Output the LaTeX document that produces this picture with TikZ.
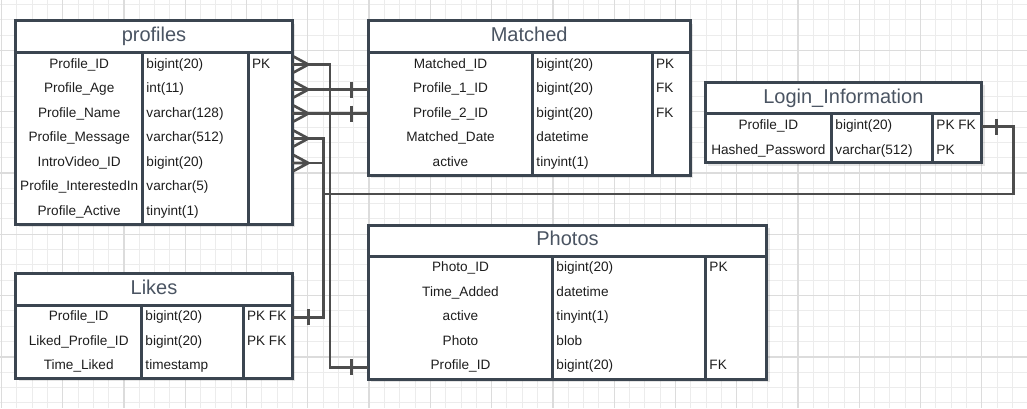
\documentclass[tikz,border=0pt]{standalone}
\usepackage{fontspec}
\setmainfont{Liberation Sans}
\usetikzlibrary{calc}
\definecolor{gridminor}{HTML}{ECECEC}
\definecolor{gridmajor}{HTML}{DCDCDC}
\definecolor{tborder}{HTML}{3B4550}
\definecolor{ttitle}{HTML}{4A5462}
\definecolor{conncol}{HTML}{4D4D4D}
\definecolor{celltext}{HTML}{1E1E1E}
\tikzset{
  tblbox/.style={rectangle, draw=tborder, line width=2.25pt, fill=white, inner sep=0pt, outer sep=0pt},
  coldiv/.style={draw=tborder, line width=1.9pt},
  tshadow/.style={fill=black, opacity=0.10},
  titletext/.style={anchor=base, inner sep=0pt, text=ttitle, font=\fontsize{15}{18}\selectfont},
  cellc/.style={anchor=base, inner sep=0pt, text=celltext, font=\fontsize{10.2}{12}\selectfont},
  celll/.style={cellc, anchor=base west},
  conn/.style={draw=conncol, line width=2.2pt},
  gminor/.style={draw=gridminor, line width=0.75pt},
  gmajor/.style={draw=gridmajor, line width=0.9pt},
  crowfoot/.pic={\draw[conn, line width=2pt] (1.2,-8) -- (16,0) (1.2,0) -- (16,0) (1.2,8) -- (16,0);},
  onetick/.pic={\draw[conn, line width=2pt] (0,-8) -- (0,8);}
}
% #1 name, #2 L, #3 T, #4 R, #5 H, #6 B, #7 c1, #8 c2, #9 title
\newcommand{\erdtable}[9]{%
  \pgfmathsetmacro{\erdW}{(#4-#2)*0.75}%
  \pgfmathsetmacro{\erdHh}{(#5-#3)*0.75}%
  \pgfmathsetmacro{\erdBh}{(#6-#5)*0.75}%
  \fill[tshadow] (#2+3,#3+3) rectangle (#4+3,#6+3);
  \node[tblbox, minimum width=\erdW pt, minimum height=\erdHh pt, anchor=north west] (#1h) at (#2,#3) {};
  \node[tblbox, minimum width=\erdW pt, minimum height=\erdBh pt, anchor=north west] (#1) at (#2,#5) {};
  \draw[coldiv] (#7,#5) -- (#7,#6);
  \draw[coldiv] (#8,#5) -- (#8,#6);
  \node[titletext] (#1t) at ({(#2+#4)/2},{(#3+#5)/2+5}) {#9};
}
% #1 name, #2 L, #3 c1, #4 c2, #5 y, #6 #7 #8 texts
\newcommand{\erdrow}[8]{%
  \node[cellc] (#1a) at ({(#2+#3)/2},{#5+4.5}) {#6};
  \node[celll] (#1b) at ({#3+3.5},{#5+4.5}) {#7};
  \if\relax\detokenize{#8}\relax\else
    \node[celll] (#1c) at ({#4+3.5},{#5+4.5}) {#8};
  \fi
}
\begin{document}
\begin{tikzpicture}[x=0.75pt, y=-0.75pt]
\useasboundingbox (0,0) rectangle (1027,408);
\fill[white] (0,0) rectangle (1027,408);
% grid
\foreach \i in {0,...,67} {\draw[gminor] ({1.4+15.32*\i},0) -- ({1.4+15.32*\i},408);}
\foreach \i in {0,...,26} {\draw[gminor] (0,{4.5+15.32*\i}) -- (1027,{4.5+15.32*\i});}
\foreach \i in {0,...,16} {\draw[gmajor] ({1.4+61.28*\i},0) -- ({1.4+61.28*\i},408);}
\foreach \i in {0,...,5} {\draw[gmajor] (0,{50.5+61.28*\i}) -- (1027,{50.5+61.28*\i});}

% tables
\erdtable{profiles}{15.7}{20.7}{292.3}{52.3}{224.3}{142.7}{248.3}{profiles}
\erdrow{pr1}{15.7}{142.7}{248.3}{63.5}{Profile\_ID}{bigint(20)}{PK}
\erdrow{pr2}{15.7}{142.7}{248.3}{88}{Profile\_Age}{int(11)}{}
\erdrow{pr3}{15.7}{142.7}{248.3}{112.5}{Profile\_Name}{varchar(128)}{}
\erdrow{pr4}{15.7}{142.7}{248.3}{137}{Profile\_Message}{varchar(512)}{}
\erdrow{pr5}{15.7}{142.7}{248.3}{161.5}{IntroVideo\_ID}{bigint(20)}{}
\erdrow{pr6}{15.7}{142.7}{248.3}{186}{Profile\_InterestedIn}{varchar(5)}{}
\erdrow{pr7}{15.7}{142.7}{248.3}{210.5}{Profile\_Active}{tinyint(1)}{}

\erdtable{matched}{368.3}{20.7}{690}{52.3}{175}{532.7}{652.3}{Matched}
\erdrow{ma1}{368.3}{532.7}{652.3}{63.5}{Matched\_ID}{bigint(20)}{PK}
\erdrow{ma2}{368.3}{532.7}{652.3}{88}{Profile\_1\_ID}{bigint(20)}{FK}
\erdrow{ma3}{368.3}{532.7}{652.3}{112.5}{Profile\_2\_ID}{bigint(20)}{FK}
\erdrow{ma4}{368.3}{532.7}{652.3}{137}{Matched\_Date}{datetime}{}
\erdrow{ma5}{368.3}{532.7}{652.3}{161.5}{active}{tinyint(1)}{}

\erdtable{login}{705}{82.3}{981.7}{113.7}{162.7}{831.7}{932.7}{Login\_Information}
\erdrow{lg1}{705}{831.7}{932.7}{125}{Profile\_ID}{bigint(20)}{PK FK}
\erdrow{lg2}{705}{831.7}{932.7}{149.5}{Hashed\_Password}{varchar(512)}{PK}

\erdtable{likes}{15.7}{273.3}{292.3}{305}{378.3}{141.7}{243.3}{Likes}
\erdrow{lk1}{15.7}{141.7}{243.3}{316}{Profile\_ID}{bigint(20)}{PK FK}
\erdrow{lk2}{15.7}{141.7}{243.3}{340.5}{Liked\_Profile\_ID}{bigint(20)}{PK FK}
\erdrow{lk3}{15.7}{141.7}{243.3}{365}{Time\_Liked}{timestamp}{}

\erdtable{photos}{368.3}{225}{766.7}{256.7}{379}{552.7}{705.7}{Photos}
\erdrow{ph1}{368.3}{552.7}{705.7}{267}{Photo\_ID}{bigint(20)}{PK}
\erdrow{ph2}{368.3}{552.7}{705.7}{291.5}{Time\_Added}{datetime}{}
\erdrow{ph3}{368.3}{552.7}{705.7}{316}{active}{tinyint(1)}{}
\erdrow{ph4}{368.3}{552.7}{705.7}{340.5}{Photo}{blob}{}
\erdrow{ph5}{368.3}{552.7}{705.7}{365}{Profile\_ID}{bigint(20)}{FK}

% attachment points
\coordinate (pA1) at (profiles.east |- 0,64.5);
\coordinate (pA2) at (profiles.east |- 0,89.5);
\coordinate (pA3) at (profiles.east |- 0,113.5);
\coordinate (pA4) at (profiles.east |- 0,138.5);
\coordinate (pA5) at (profiles.east |- 0,163);
\coordinate (mA2) at (matched.west |- 0,89.5);
\coordinate (mA3) at (matched.west |- 0,113.5);
\coordinate (phA) at (photos.west |- 0,367.3);
\coordinate (lkA) at (likes.east |- 0,317.3);
\coordinate (lgA) at (login.east |- 0,126.7);

% connectors
\draw[conn] (pA1) -- ++(37.7,0) |- (phA);
\draw[conn] (pA2) -- (mA2);
\draw[conn] (pA3) -- (mA3);
\draw[conn] (pA4) -- ++(31,0) |- (lkA);
\draw[conn] (pA5) -- ++(31,0) -- ++(0,31) -- ++(690,0) |- (lgA);

% crow's feet
\foreach \c in {pA1,pA2,pA3,pA4,pA5} {\pic at (\c) {crowfoot};}
% one ticks
\pic at ($(mA2)+(-16.6,0)$) {onetick};
\pic at ($(mA3)+(-16.6,0)$) {onetick};
\pic at ($(phA)+(-16.6,0)$) {onetick};
\pic at ($(lkA)+(16,0)$) {onetick};
\pic at ($(lgA)+(15,0)$) {onetick};
\end{tikzpicture}
\end{document}
